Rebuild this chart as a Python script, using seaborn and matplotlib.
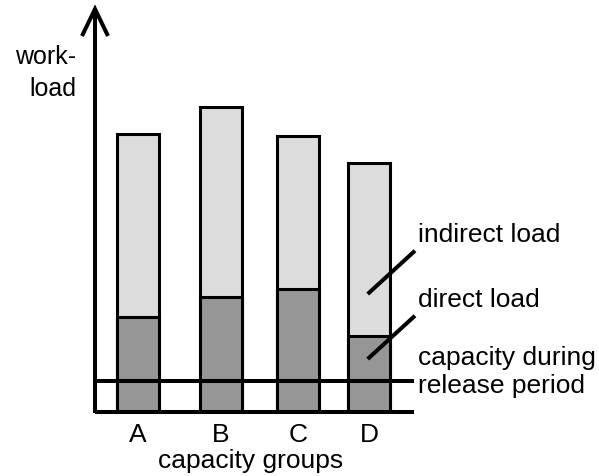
import numpy as np
import pandas as pd
import matplotlib
matplotlib.use("Agg")
import matplotlib.pyplot as plt
import seaborn as sns

# ---- data (workload units) ----
groups = ["A", "B", "C", "D"]
direct_load = [95, 115, 123, 76]
total_load = [278, 305, 276, 249]        # direct + indirect
capacity = 31

# ---- layout (positions of the capacity groups on the x axis) ----
group_pos = [138, 221, 298, 369]

df = pd.DataFrame({"group": groups, "pos": group_pos,
                   "direct": direct_load, "total": total_load})

sns.set_theme(style="white")
plt.rcParams["font.family"] = ["Liberation Sans", "DejaVu Sans"]
plt.rcParams["text.color"] = "black"
plt.rcParams["xtick.color"] = "black"
plt.rcParams["axes.labelcolor"] = "black"

W, H, DPI = 599, 477, 100
fig = plt.figure(figsize=(W / DPI, H / DPI), dpi=DPI)
base_px = 413
ax = fig.add_axes([0, (H - base_px) / H, 1, base_px / H])

light = "#dcdcdc"
dark = "#969696"
bar_w = 42 / np.min(np.diff(group_pos))

sns.barplot(data=df, x="pos", y="total", native_scale=True, orient="x",
            width=bar_w, color=light, saturation=1, edgecolor="black",
            linewidth=2.2, ax=ax, zorder=2)
sns.barplot(data=df, x="pos", y="direct", native_scale=True, orient="x",
            width=bar_w, color=dark, saturation=1, edgecolor="black",
            linewidth=2.2, ax=ax, zorder=3)

ax.set_xlim(0, W)
ax.set_ylim(0, base_px)
for s in ax.spines.values():
    s.set_visible(False)
ax.set_yticks([])
ax.set_xticks(group_pos, groups)
ax.tick_params(axis="x", length=0, pad=7, labelsize=19, labelcolor="black")
ax.set_xlabel("")
ax.set_ylabel("")

lw = 2.9
kw = dict(color="black", lw=lw, clip_on=False, zorder=5, solid_capstyle="butt")
# baseline and capacity line
ax.plot([95, 414], [0, 0], **kw)
ax.plot([95, 414], [capacity, capacity], **kw)
# y axis with open arrow head
ax.plot([95, 95], [-1, 403], **kw)
ax.plot([82, 95, 108], [376, 403, 376], color="black", lw=lw, clip_on=False,
        zorder=5, solid_joinstyle="miter", solid_capstyle="butt")

# leader lines
ax.plot([367.7, 415], [118, 161.3], **kw)
ax.plot([367.7, 415], [53, 96.3], **kw)

fs = 19
ax.text(417.5, 413 - 241.7, "indirect load", fontsize=fs, va="baseline", ha="left")
ax.text(417.5, 413 - 306.7, "direct load", fontsize=fs, va="baseline", ha="left")
ax.text(418.5, 413 - 365, "capacity during", fontsize=fs, va="baseline", ha="left")
ax.text(418, 413 - 393.3, "release period", fontsize=fs, va="baseline", ha="left")
ax.text(76, 413 - 64.3, "work-", fontsize=18, va="baseline", ha="right")
ax.text(76.5, 413 - 96, "load", fontsize=18, va="baseline", ha="right")

fig.text(251 / W, (H - 468.3) / H, "capacity groups", fontsize=fs,
         va="baseline", ha="center")

fig.savefig("out.png", dpi=DPI)
